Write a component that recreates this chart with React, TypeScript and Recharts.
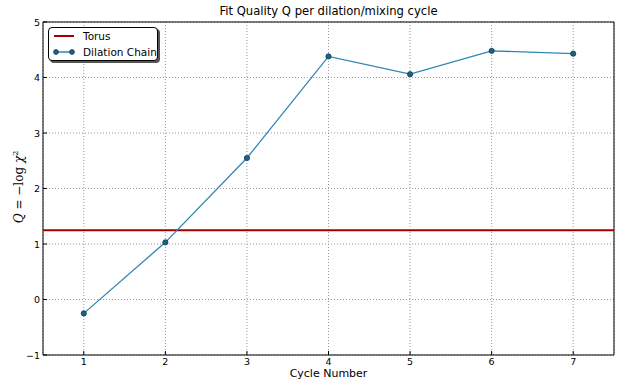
import { ComposedChart, Line, XAxis, YAxis, CartesianGrid, ReferenceLine, ReferenceArea } from 'recharts'

const cycles = [1, 2, 3, 4, 5, 6, 7]
const dilationChain = [-0.25, 1.03, 2.55, 4.38, 4.06, 4.48, 4.43]
const torusQ = 1.25
const xTicks = [1, 2, 3, 4, 5, 6, 7]
const yTicks = [-1, 0, 1, 2, 3, 4, 5]

const data = cycles.map((c, i) => ({ cycle: c, chain: dilationChain[i] }))

const FONT = '"DejaVu Sans", sans-serif'
const LINE = '#2f86b4'
const DOT_FILL = '#1b6284'
const DOT_EDGE = '#0c3b52'
const TORUS = '#a50000'

function BottomTick({ x, y, payload }: any) {
  return (
    <g>
      <line x1={x} x2={x} y1={y} y2={y - 4} stroke="#000" />
      <text x={x} y={y + 10} textAnchor="middle" fontSize={9.5} fontFamily={FONT} fill="#000">
        {payload.value}
      </text>
    </g>
  )
}

function TopTick({ x, y }: any) {
  return <line x1={x} x2={x} y1={y} y2={y + 4} stroke="#000" />
}

function LeftTick({ x, y, payload }: any) {
  const v = payload.value < 0 ? '\u2212' + Math.abs(payload.value) : String(payload.value)
  return (
    <g>
      <line x1={x} x2={x + 4} y1={y} y2={y} stroke="#000" />
      <text x={x - 3} y={y + 3.5} textAnchor="end" fontSize={9.5} fontFamily={FONT} fill="#000">
        {v}
      </text>
    </g>
  )
}

function RightTick({ x, y }: any) {
  return <line x1={x} x2={x - 4} y1={y} y2={y} stroke="#000" />
}

function LegendBox() {
  return (
    <div
      style={{
        position: 'absolute',
        left: 48,
        top: 27,
        width: 110,
        height: 34,
        boxSizing: 'border-box',
        border: '1px solid #000',
        borderRadius: 4,
        background: '#fff',
        boxShadow: '2px 2px 0 #555',
        padding: '0 0 0 4px',
        fontFamily: FONT,
        fontSize: 10.5,
        lineHeight: '16px',
        color: '#000',
      }}
    >
      <div style={{ display: 'flex', alignItems: 'center', height: 16 }}>
        <svg width={22} height={16}>
          <line x1={1} x2={21} y1={8} y2={8} stroke={TORUS} strokeWidth={2} />
        </svg>
        <span style={{ marginLeft: 8 }}>Torus</span>
      </div>
      <div style={{ display: 'flex', alignItems: 'center', height: 16 }}>
        <svg width={22} height={16}>
          <line x1={3} x2={19} y1={8} y2={8} stroke={LINE} strokeWidth={1.5} />
          <circle cx={3} cy={8} r={2.4} fill={DOT_FILL} stroke={DOT_EDGE} strokeWidth={0.8} />
          <circle cx={19} cy={8} r={2.4} fill={DOT_FILL} stroke={DOT_EDGE} strokeWidth={0.8} />
        </svg>
        <span style={{ marginLeft: 8 }}>Dilation Chain</span>
      </div>
    </div>
  )
}

export default function App() {
  return (
    <div style={{ position: 'absolute', left: 0, top: 0, width: 623, height: 389, background: '#fff' }}>
      <ComposedChart width={623} height={389} data={data} margin={{ top: 22, right: 9, left: 0, bottom: 0 }}>
        <CartesianGrid stroke="#999" strokeDasharray="1 2" />
        <XAxis
          dataKey="cycle"
          type="number"
          domain={[0.5, 7.5]}
          ticks={xTicks}
          height={34}
          axisLine={false}
          tickLine={false}
          tickSize={0}
          tickMargin={0}
          tick={<BottomTick />}
          interval={0}
        />
        <XAxis
          xAxisId="top"
          orientation="top"
          dataKey="cycle"
          type="number"
          domain={[0.5, 7.5]}
          ticks={xTicks}
          height={0}
          axisLine={false}
          tickLine={false}
          tickSize={0}
          tickMargin={0}
          tick={<TopTick />}
          interval={0}
        />
        <YAxis
          type="number"
          domain={[-1, 5]}
          ticks={yTicks}
          width={43}
          axisLine={false}
          tickLine={false}
          tickSize={0}
          tickMargin={0}
          tick={<LeftTick />}
          interval={0}
        />
        <YAxis
          yAxisId="right"
          orientation="right"
          type="number"
          domain={[-1, 5]}
          ticks={yTicks}
          width={0}
          axisLine={false}
          tickLine={false}
          tickSize={0}
          tickMargin={0}
          tick={<RightTick />}
          interval={0}
        />
        <ReferenceLine y={torusQ} stroke={TORUS} strokeWidth={2} />
        <Line
          dataKey="chain"
          stroke={LINE}
          strokeWidth={1.3}
          dot={{ r: 2.6, fill: DOT_FILL, stroke: DOT_EDGE, strokeWidth: 0.8 }}
          activeDot={false}
          isAnimationActive={false}
        />
        <ReferenceArea x1={0.5} x2={7.5} y1={-1} y2={5} fill="none" stroke="#000" strokeWidth={1} />
      </ComposedChart>
      <LegendBox />
      <div
        style={{
          position: 'absolute',
          left: 43,
          width: 571,
          top: 5,
          lineHeight: '13px',
          textAlign: 'center',
          fontFamily: FONT,
          fontSize: 11.6,
          color: '#000',
        }}
      >
        Fit Quality Q per dilation/mixing cycle
      </div>
      <div
        style={{
          position: 'absolute',
          left: 43,
          width: 571,
          top: 367,
          lineHeight: '13px',
          textAlign: 'center',
          fontFamily: FONT,
          fontSize: 11,
          color: '#000',
        }}
      >
        Cycle Number
      </div>
      <div
        style={{
          position: 'absolute',
          left: 19,
          top: 187,
          transform: 'translate(-50%, -50%) rotate(-90deg)',
          whiteSpace: 'nowrap',
          lineHeight: '14px',
          fontFamily: '"DejaVu Serif", serif',
          fontSize: 12,
          color: '#000',
        }}
      >
        <i>Q</i> = {'\u2212'}log <i>{'\u03c7'}</i>
        <sup style={{ fontSize: 8, lineHeight: 0 }}>2</sup>
      </div>
    </div>
  )
}
